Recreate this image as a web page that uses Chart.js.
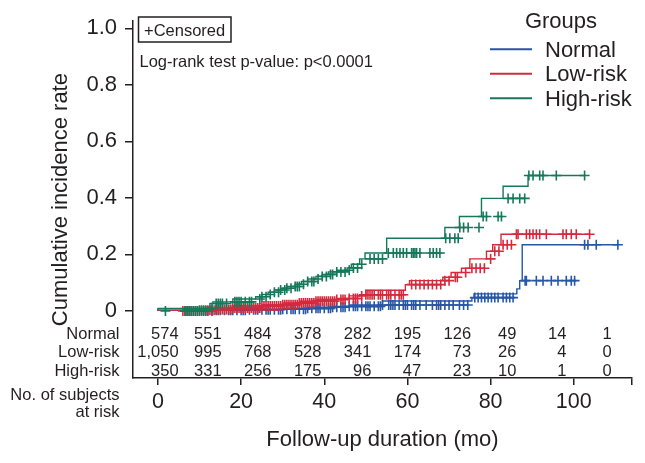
<!DOCTYPE html>
<html>
<head>
<meta charset="utf-8">
<script src="https://cdn.jsdelivr.net/npm/chart.js@4.4.0/dist/chart.umd.min.js"></script>
<style>
  html, body { margin: 0; padding: 0; background: #fff; }
  canvas { display: block; }
</style>
</head>
<body>
<canvas id="cifChart" width="645" height="463"></canvas>
<script>
const groups = ['Normal', 'Low-risk', 'High-risk'];

// step curves: time (mo) where the cumulative incidence jumps, and the new level
const normalTimes = [0, 14, 22, 30, 36, 42, 46, 54, 75.5, 76, 86.3, 87, 87.6, 101, 110.6];
const normalRates = [0, 0.002, 0.004, 0.006, 0.009, 0.013, 0.016, 0.021, 0.035, 0.047, 0.06, 0.078, 0.107, 0.234, 0.234];

const lowTimes = [0, 10, 14, 18, 25, 30, 34, 38, 43, 46, 48.5, 50, 59.5, 60.5, 68.5, 70.5, 73, 75, 79, 80.5, 82.5, 85.8, 103.8];
const lowRates = [0, 0.002, 0.005, 0.01, 0.017, 0.022, 0.028, 0.034, 0.04, 0.044, 0.053, 0.057, 0.073, 0.093, 0.107, 0.119, 0.136, 0.151, 0.184, 0.211, 0.234, 0.271, 0.271];

const highTimes = [0, 12.5, 13.2, 18, 23.5, 25, 26.5, 28, 29.5, 31, 33, 34.5, 36, 38, 39.5, 41, 43, 45.5, 46.5, 48.5, 49.8, 55, 69, 72.5, 77.8, 83, 89, 89.1, 102.6];
const highRates = [0, 0.009, 0.026, 0.032, 0.042, 0.05, 0.058, 0.066, 0.074, 0.08, 0.086, 0.094, 0.104, 0.113, 0.122, 0.129, 0.138, 0.144, 0.152, 0.165, 0.184, 0.205, 0.257, 0.295, 0.334, 0.398, 0.441, 0.479, 0.479];

// censored observations (mo)
const normalCensored = [12, 13, 14, 14.5, 15, 16, 17, 17.5, 18, 19, 20, 20.5, 21, 22, 23, 23.5, 24, 25, 26, 26.5, 27, 28, 29, 29.5, 30, 31, 32, 32.5, 33, 34, 35, 35.5, 36, 37, 38, 38.5, 39, 40, 41, 41.5, 42, 43, 44, 44.5, 45, 46, 47, 47.5, 48, 49, 50, 50.5, 51, 52, 53, 53.5, 54, 55.5, 56, 56.5, 57, 58, 59, 59.5, 60, 61, 61.5, 62, 63, 64.5, 66, 67, 67.5, 68, 69, 70, 71, 72.5, 73.5, 74.5, 76.2, 77, 77.8, 78.6, 79.4, 80.2, 81, 81.8, 83, 83.8, 84.6, 85.4, 88.3, 88.6, 91, 92.6, 94.6, 96.2, 98.2, 99.4, 100.2, 102.6, 103.4, 105.4, 110.6];
const lowCensored = [6, 6.5, 7, 7.5, 8, 8.5, 9, 9.5, 10, 10.5, 11, 11.5, 12, 12.5, 13, 13.5, 14, 14.5, 15, 15.5, 16, 16.5, 17, 17.5, 18, 18.5, 19, 19.5, 20, 20.5, 21, 21.5, 22, 22.5, 23, 23.5, 24, 24.5, 25, 25.5, 26, 26.5, 27, 27.5, 28, 28.5, 29, 29.5, 30, 30.5, 31, 31.5, 32, 32.5, 33, 33.5, 34, 34.5, 35, 35.5, 36, 36.5, 37, 37.5, 38, 38.5, 39, 39.5, 40, 40.5, 41, 41.5, 42, 42.5, 43, 44, 44.5, 45, 46, 47, 47.5, 48, 49, 50, 50.5, 51, 51.5, 52, 53, 53.5, 54, 55, 55.5, 56, 57, 58, 58.5, 59, 61, 62, 63, 64, 65, 66, 67, 68, 69, 70, 71.5, 72, 74, 75.5, 76.5, 77.5, 78.5, 80, 81, 82, 83, 84, 85, 86.2, 86.6, 88.6, 89.4, 90.2, 91, 91.8, 93.4, 97.4, 98.2, 99.4, 100.6, 103.8];
const highCensored = [1.8, 6.5, 7, 7.5, 8, 8.5, 9, 9.5, 10, 10.5, 11, 11.5, 13, 14, 14.5, 15, 15.5, 16.5, 18.5, 19, 19.5, 20, 21, 22, 22.5, 24.5, 25, 26, 27, 28, 29, 29.5, 30.5, 31, 32, 33, 33.5, 34, 35, 36, 37, 37.5, 38.5, 39.5, 40.5, 41.5, 42, 43, 44, 45, 46, 47, 48, 49, 51, 52, 53, 54, 55.4, 56.6, 57.4, 58.2, 59, 59.8, 61, 61.4, 61.8, 62.2, 63, 65.4, 66.2, 67, 67.8, 69.2, 70.2, 71.4, 72.2, 72.6, 73.5, 74.6, 77.2, 78.2, 79, 81.8, 82.6, 84.2, 85.4, 87, 88.2, 89.2, 90.2, 91.8, 92.6, 95.8, 102.6];

// number at risk table
const riskTimes = [0, 12, 24, 36, 48, 60, 72, 84, 96, 108];
const riskNormal = [574, 551, 484, 378, 282, 195, 126, 49, 14, 1];
const riskLow = [1050, 995, 768, 528, 341, 174, 73, 26, 4, 0];
const riskHigh = [350, 331, 256, 175, 96, 47, 23, 10, 1, 0];

const xTicks = [0, 20, 40, 60, 80, 100];
const yTicks = [0, 0.2, 0.4, 0.6, 0.8, 1.0];

const colors = ['#2756a5', '#d42a3c', '#16785a'];
const ink = '#231f20';
const fontFamily = '"Liberation Sans", Arial, Helvetica, sans-serif';

function toPoints(times, rates) {
  return times.map((t, i) => ({ x: t, y: rates[i] }));
}

// level of the step curve at time t (for placing censor marks)
function levelAt(times, rates, t) {
  let v = 0;
  for (let i = 0; i < times.length; i++) {
    if (times[i] <= t) v = rates[i];
  }
  return v;
}

function censorPoints(times, rates, censored) {
  return censored.map(t => ({ x: t, y: levelAt(times, rates, t) }));
}

const curves = [
  [normalTimes, normalRates, normalCensored],
  [lowTimes, lowRates, lowCensored],
  [highTimes, highRates, highCensored]
];

const datasets = [];
curves.forEach(([times, rates, cens], i) => {
  datasets.push({
    label: groups[i],
    data: toPoints(times, rates),
    stepped: 'after',
    borderColor: colors[i],
    borderWidth: 1.4,
    pointRadius: 0,
    fill: false,
    order: 2 - i
  });
  datasets.push({
    label: groups[i] + ' censored',
    data: censorPoints(times, rates, cens),
    showLine: false,
    pointStyle: 'cross',
    pointRadius: 5,
    pointBorderWidth: 1.6,
    pointBorderColor: colors[i],
    borderColor: colors[i],
    order: 2 - i
  });
});

const annotations = {
  id: 'annotations',
  afterDraw(chart) {
    const { ctx, chartArea, scales: { x, y } } = chart;
    ctx.save();
    ctx.fillStyle = ink;
    ctx.strokeStyle = ink;
    ctx.textBaseline = 'alphabetic';

    // censored box + log-rank note
    ctx.lineWidth = 1.5;
    ctx.strokeRect(138.5, 17, 92.5, 25);
    ctx.font = '16.5px ' + fontFamily;
    ctx.textAlign = 'left';
    ctx.fillText('+Censored', 144, 36);
    ctx.fillText('Log-rank test p-value: p<0.0001', 139.5, 66.7);

    // legend
    ctx.font = '22px ' + fontFamily;
    ctx.textAlign = 'center';
    ctx.fillText('Groups', 561, 28.3);
    ctx.textAlign = 'left';
    groups.forEach((g, i) => {
      const ly = 49.3 + i * 24.5;
      ctx.strokeStyle = colors[i];
      ctx.lineWidth = 2;
      ctx.beginPath();
      ctx.moveTo(490, ly);
      ctx.lineTo(532, ly);
      ctx.stroke();
      ctx.fillStyle = ink;
      ctx.fillText(g, 545, ly + 7.5);
    });

    // number at risk table
    ctx.font = '16.5px ' + fontFamily;
    const rows = [riskNormal, riskLow, riskHigh];
    const y0 = y.getPixelForValue(0);
    const labelRight = chartArea.left - 13.5;
    rows.forEach((row, r) => {
      ctx.textAlign = 'right';
      ctx.fillText(groups[r], labelRight, y0 + 28 + r * 18.35);
    });
    riskTimes.forEach((t, c) => {
      const texts = rows.map(row => row[c].toLocaleString('en-US'));
      const maxW = Math.max(...texts.map(s => ctx.measureText(s).width));
      const right = x.getPixelForValue(t) + maxW / 2;
      texts.forEach((s, r) => {
        ctx.textAlign = 'right';
        ctx.fillText(s, right, y0 + 28 + r * 18.35);
      });
    });
    ctx.textAlign = 'right';
    ctx.fillText('No. of subjects', labelRight, 400);
    ctx.fillText('at risk', labelRight, 417.3);

    ctx.restore();
  }
};

new Chart(document.getElementById('cifChart'), {
  type: 'line',
  data: { datasets },
  options: {
    responsive: false,
    animation: false,
    layout: { padding: { top: 13, right: 13, left: 0, bottom: 0 } },
    plugins: {
      legend: { display: false },
      tooltip: { enabled: false }
    },
    scales: {
      x: {
        type: 'linear',
        min: -6,
        max: 114,
        afterBuildTicks(scale) {
          scale.ticks = xTicks.concat([scale.max]).map(v => ({ value: v }));
        },
        afterFit(scale) { scale.height = 85; },
        ticks: {
          callback: v => (xTicks.includes(v) ? String(v) : ''),
          color: ink,
          font: { family: fontFamily, size: 21.5 },
          padding: 4,
          maxRotation: 0,
          autoSkip: false
        },
        grid: { drawOnChartArea: false, drawTicks: true, tickLength: 7, color: ink, lineWidth: 1.5 },
        border: { display: true, color: ink, width: 1.5 },
        title: {
          display: true,
          text: 'Follow-up duration (mo)',
          color: ink,
          font: { family: fontFamily, size: 22 },
          padding: { top: 0, bottom: 10 }
        }
      },
      y: {
        type: 'linear',
        min: -0.2375,
        max: 1.025,
        afterBuildTicks(scale) {
          scale.ticks = yTicks.map(v => ({ value: v }));
        },
        afterFit(scale) { scale.width = 133; },
        ticks: {
          callback: v => (v === 0 ? '0' : v.toFixed(1)),
          color: ink,
          font: { family: fontFamily, size: 22 },
          padding: 8
        },
        grid: { drawOnChartArea: false, drawTicks: true, tickLength: 8, color: ink, lineWidth: 1.5 },
        border: { display: true, color: ink, width: 1.5 },
        title: {
          display: true,
          text: 'Cumulative incidence rate',
          color: ink,
          font: { family: fontFamily, size: 22 },
          padding: { top: 48, bottom: 0 }
        }
      }
    }
  },
  plugins: [annotations]
});
</script>
</body>
</html>
